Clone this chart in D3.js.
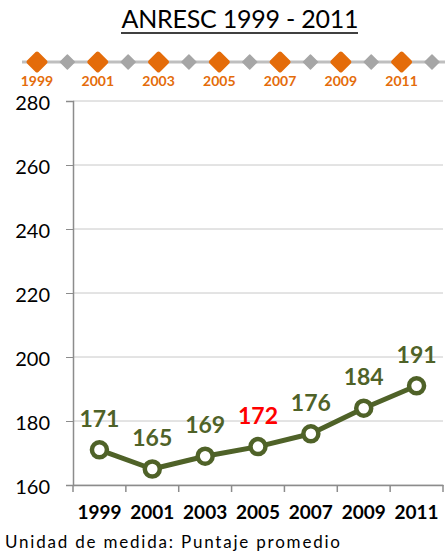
<!DOCTYPE html>
<html>
<head>
<meta charset="utf-8">
<script src="https://cdn.jsdelivr.net/npm/d3@7"></script>
<style>
  body { margin: 0; background: #fff; }
  text { font-family: Lato, "Open Sans", sans-serif; }
</style>
</head>
<body>
<script>
var years = ['1999', '2001', '2003', '2005', '2007', '2009', '2011'];
var scores = [171, 165, 169, 172, 176, 184, 191];
var yTicks = [160, 180, 200, 220, 240, 260, 280];
var timelineYears = ['1999', '2001', '2003', '2005', '2007', '2009', '2011'];
var highlightYear = '2005';

var screen = { width: 445, height: 555 };
var margins = { top: 101, left: 73, bottom: 70, right: 2 };
var green = '#4F6228';
var orange = '#E46C0A';
var font = 'Lato, "Open Sans", sans-serif';

var svg = d3.select('body')
            .append('svg')
            .attr('width', screen.width)
            .attr('height', screen.height);

// title
svg.append('text')
   .attr('x', 240)
   .attr('y', 28)
   .attr('text-anchor', 'middle')
   .style('font-size', '25px')
   .attr('textLength', 237)
   .attr('fill', '#000')
   .text('ANRESC 1999 - 2011');
svg.append('line')
   .attr('x1', 121).attr('x2', 358)
   .attr('y1', 33).attr('y2', 33)
   .attr('stroke', '#000').attr('stroke-width', 1.5);

// timeline strip
var tScale = d3.scalePoint()
               .domain(d3.range(timelineYears.length * 2))
               .range([37, 432]);
var timeline = svg.append('g').classed('timeline', true);
timeline.append('line')
        .attr('x1', 22).attr('x2', 445)
        .attr('y1', 62).attr('y2', 62)
        .attr('stroke', '#BFBFBF').attr('stroke-width', 3);
timeline.selectAll('path.minor')
        .data(timelineYears)
        .enter()
        .append('path')
        .classed('minor', true)
        .attr('d', 'M0,-7L7,0L0,7L-7,0Z')
        .attr('transform', function(d, i){ return 'translate(' + tScale(i * 2 + 1) + ',62)'; })
        .attr('fill', '#A6A6A6')
        .attr('stroke', '#A6A6A6')
        .attr('stroke-linejoin', 'round')
        .attr('stroke-width', 1.5);
timeline.selectAll('path.major')
        .data(timelineYears)
        .enter()
        .append('path')
        .classed('major', true)
        .attr('d', 'M0,-8.5L8.5,0L0,8.5L-8.5,0Z')
        .attr('transform', function(d, i){ return 'translate(' + tScale(i * 2) + ',62)'; })
        .attr('fill', orange)
        .attr('stroke', orange)
        .attr('stroke-linejoin', 'round')
        .attr('stroke-width', 4);
timeline.selectAll('text')
        .data(timelineYears)
        .enter()
        .append('text')
        .attr('x', function(d, i){ return tScale(i * 2); })
        .attr('y', 86)
        .attr('text-anchor', 'middle')
        .style('font-size', '14px')
        .style('font-weight', 'bold')
        .attr('fill', orange)
        .text(function(d){ return d; });

// scales
var xScale = d3.scaleBand()
               .domain(years)
               .range([margins.left, screen.width - margins.right]);
var yScale = d3.scaleLinear()
               .domain([160, 280])
               .range([screen.height - margins.bottom, margins.top]);

// gridlines
svg.append('g')
   .selectAll('line')
   .data(yTicks)
   .enter()
   .append('line')
   .attr('x1', margins.left).attr('x2', screen.width - margins.right)
   .attr('y1', function(d){ return yScale(d); })
   .attr('y2', function(d){ return yScale(d); })
   .attr('stroke', '#C8C8C8').attr('stroke-width', 1);

// y axis
var yAxis = d3.axisLeft(yScale).tickValues(yTicks).tickSize(7).tickPadding(16);
var yg = svg.append('g')
            .attr('transform', 'translate(' + margins.left + ',0)')
            .call(yAxis);
yg.select('.domain').attr('stroke', '#8C8C8C').attr('stroke-width', 1.5);
yg.selectAll('line').attr('stroke', '#8C8C8C');
yg.selectAll('text').style('font-size', '20px').attr('fill', '#000')
  .attr('dy', '0.4em')
  .style('font-family', font);

// x axis
var xAxis = d3.axisBottom(xScale).tickSize(0).tickPadding(21);
var xg = svg.append('g')
            .attr('transform', 'translate(0,' + yScale(160) + ')')
            .call(xAxis);
xg.select('.domain').attr('stroke', '#8C8C8C').attr('stroke-width', 1.5);
xg.selectAll('text').style('font-size', '19px').style('font-weight', 'bold').attr('fill', '#000')
  .style('font-family', font);
// tick marks on category boundaries
xg.selectAll('line.bound')
  .data(years.concat(['end']))
  .enter()
  .append('line')
  .classed('bound', true)
  .attr('x1', function(d, i){ return margins.left + i * xScale.step(); })
  .attr('x2', function(d, i){ return margins.left + i * xScale.step(); })
  .attr('y1', 0).attr('y2', 7)
  .attr('stroke', '#8C8C8C').attr('stroke-width', 1.5);

// line
var cx = function(d, i){ return xScale(years[i]) + xScale.bandwidth() / 2; };
var line = d3.line()
             .x(function(d, i){ return cx(d, i); })
             .y(function(d){ return yScale(d); });
svg.append('path')
   .datum(scores)
   .attr('d', line)
   .attr('fill', 'none')
   .attr('stroke', green)
   .attr('stroke-width', 5)
   .attr('stroke-linejoin', 'round');
svg.selectAll('circle.pt')
   .data(scores)
   .enter()
   .append('circle')
   .classed('pt', true)
   .attr('cx', cx)
   .attr('cy', function(d){ return yScale(d); })
   .attr('r', 7.5)
   .attr('fill', '#fff')
   .attr('stroke', green)
   .attr('stroke-width', 4.5);

// value labels
svg.selectAll('text.val')
   .data(scores)
   .enter()
   .append('text')
   .classed('val', true)
   .attr('x', cx)
   .attr('y', function(d){ return yScale(d) - 23; })
   .attr('text-anchor', 'middle')
   .style('font-size', '23px')
   .style('font-weight', 'bold')
   .attr('fill', function(d, i){ return years[i] === highlightYear ? '#FF0000' : green; })
   .text(function(d){ return d; });

// footnote
svg.append('text')
   .attr('x', 5)
   .attr('y', 548)
   .style('font-size', '17px')
   .attr('textLength', 335)
   .attr('fill', '#000')
   .text('Unidad de medida: Puntaje promedio');
</script>
</body>
</html>
